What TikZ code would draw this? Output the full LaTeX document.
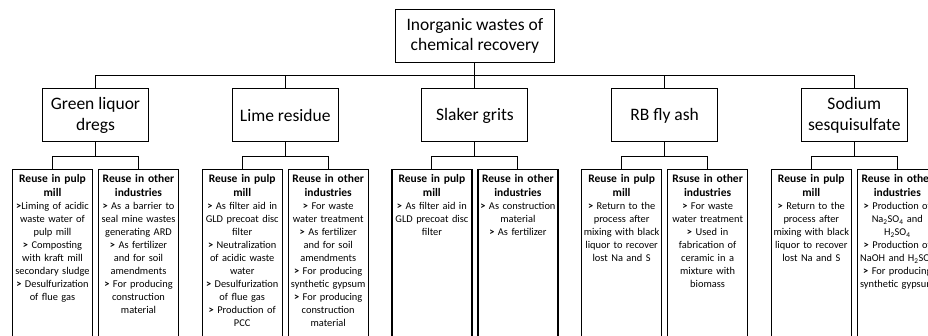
\documentclass[tikz,border=0pt]{standalone}
\usepackage{fontspec}
\setmainfont{Carlito}
\usetikzlibrary{calc}
\newcommand\gtb{\textbf{>}}
\begin{document}
\begin{tikzpicture}[x=1pt,y=-1pt,
  conn/.style={line width=1pt},
  topbox/.style={draw, line width=1pt, minimum width=159pt, minimum height=53pt, align=center, font=\fontsize{17.5}{20.5}\selectfont, inner sep=0pt},
  midbox/.style={draw, line width=1pt, minimum width=106pt, minimum height=53pt, align=center, font=\fontsize{17.5}{21}\selectfont, inner sep=0pt},
  leafbox/.style={draw, line width=1.2pt, minimum width=80pt, minimum height=200pt, anchor=north, inner sep=0pt},
  hdr/.style={anchor=north, text width=86pt, align=center, inner sep=0pt, font=\fontsize{11.5}{14.5}\selectfont\bfseries},
  bdy/.style={anchor=north, text width=86pt, align=center, inner sep=0pt, font=\fontsize{10.4}{13}\selectfont},
]
\useasboundingbox (0,0) rectangle (928,336);
\clip (0,0) rectangle (928,336);

\coordinate (bus) at (474.9,76);
\coordinate (lv) at (0,157);

\node[topbox] (root) at (474.9,36) {Inorganic wastes of\\chemical recovery};

\node[midbox] (m1) at (95.5,115.5) {Green liquor\\dregs};
\node[midbox] (m2) at (285.2,115.5) {Lime residue};
\node[midbox] (m3) at (474.9,115.5) {Slaker grits};
\node[midbox] (m4) at (664.6,115.5) {RB fly ash};
\node[midbox] (m5) at (854.3,115.5) {Sodium\\sesquisulfate};

\foreach \m in {m1,m2,m3,m4,m5}{
  \draw[conn] (root.south) -- (root.south |- bus) -| (\m.north);
}

% leaf boxes
\node[leafbox] (p1) at (52.5,169) {};
\node[leafbox] (o1) at (138.5,169) {};
\node[leafbox] (p2) at (242.2,169) {};
\node[leafbox] (o2) at (328.2,169) {};
\node[leafbox] (p3) at (431.9,169) {};
\node[leafbox] (o3) at (517.9,169) {};
\node[leafbox] (p4) at (621.6,169) {};
\node[leafbox] (o4) at (707.6,169) {};
\node[leafbox] (p5) at (811.3,169) {};
\node[leafbox] (o5) at (897.3,169) {};

\foreach \m/\p/\o in {m1/p1/o1,m2/p2/o2,m3/p3/o3,m4/p4/o4,m5/p5/o5}{
  \draw[conn] (\m.south) -- (\m.south |- lv) -| (\p.north);
  \draw[conn] (\m.south |- lv) -| (\o.north);
}

% headers
\node[hdr] (hp1) at ($(p1.north)+(0,5)$) {Reuse in pulp\\mill};
\node[hdr] (ho1) at ($(o1.north)+(0,5)$) {Reuse in other\\industries};
\node[hdr] (hp2) at ($(p2.north)+(0,5)$) {Reuse in pulp\\mill};
\node[hdr] (ho2) at ($(o2.north)+(0,5)$) {Reuse in other\\industries};
\node[hdr] (hp3) at ($(p3.north)+(0,5)$) {Reuse in pulp\\mill};
\node[hdr] (ho3) at ($(o3.north)+(0,5)$) {Reuse in other\\industries};
\node[hdr] (hp4) at ($(p4.north)+(0,5)$) {Reuse in pulp\\mill};
\node[hdr] (ho4) at ($(o4.north)+(0,5)$) {Rsuse in other\\industries};
\node[hdr] (hp5) at ($(p5.north)+(0,5)$) {Reuse in pulp\\mill};
\node[hdr] (ho5) at ($(o5.north)+(0,5)$) {Reuse in other\\industries};

% bodies
\node[bdy] (bp1) at ($(hp1.south)+(0,5.5)$) {\gtb Liming of acidic\\waste water of\\pulp mill\\\gtb{} Composting\\with kraft mill\\secondary sludge\\\gtb{} Desulfurization\\of flue gas};
\node[bdy] (bo1) at ($(ho1.south)+(0,5.5)$) {\gtb{} As a barrier to\\seal mine wastes\\generating ARD\\\gtb{} As fertilizer\\and for soil\\amendments\\\gtb{} For producing\\construction\\material};
\node[bdy] (bp2) at ($(hp2.south)+(0,5.5)$) {\gtb{} As filter aid in\\GLD precoat disc\\filter\\\gtb{} Neutralization\\of acidic waste\\water\\\gtb{} Desulfurization\\of flue gas\\\gtb{} Production of\\PCC};
\node[bdy] (bo2) at ($(ho2.south)+(0,5.5)$) {\gtb{} For waste\\water treatment\\\gtb{} As fertilizer\\and for soil\\amendments\\\gtb{} For producing\\synthetic gypsum\\\gtb{} For producing\\construction\\material};
\node[bdy] (bp3) at ($(hp3.south)+(0,5.5)$) {\gtb{} As filter aid in\\GLD precoat disc\\filter};
\node[bdy] (bo3) at ($(ho3.south)+(0,5.5)$) {\gtb{} As construction\\material\\\gtb{} As fertilizer};
\node[bdy] (bp4) at ($(hp4.south)+(0,5.5)$) {\gtb{} Return to the\\process after\\mixing with black\\liquor to recover\\lost Na and S};
\node[bdy] (bo4) at ($(ho4.south)+(0,5.5)$) {\gtb{} For waste\\water treatment\\\gtb{} Used in\\fabrication of\\ceramic in a\\mixture with\\biomass};
\node[bdy] (bp5) at ($(hp5.south)+(0,5.5)$) {\gtb{} Return to the\\process after\\mixing with black\\liquor to recover\\lost Na and S};
\node[bdy] (bo5) at ($(ho5.south)+(0,5.5)$) {\gtb{} Production of\\Na\textsubscript{2}SO\textsubscript{4} and\\H\textsubscript{2}SO\textsubscript{4}\\\gtb{} Production of\\NaOH and H\textsubscript{2}SO\textsubscript{4}\\\gtb{} For producing\\synthetic gypsum};
\end{tikzpicture}
\end{document}
